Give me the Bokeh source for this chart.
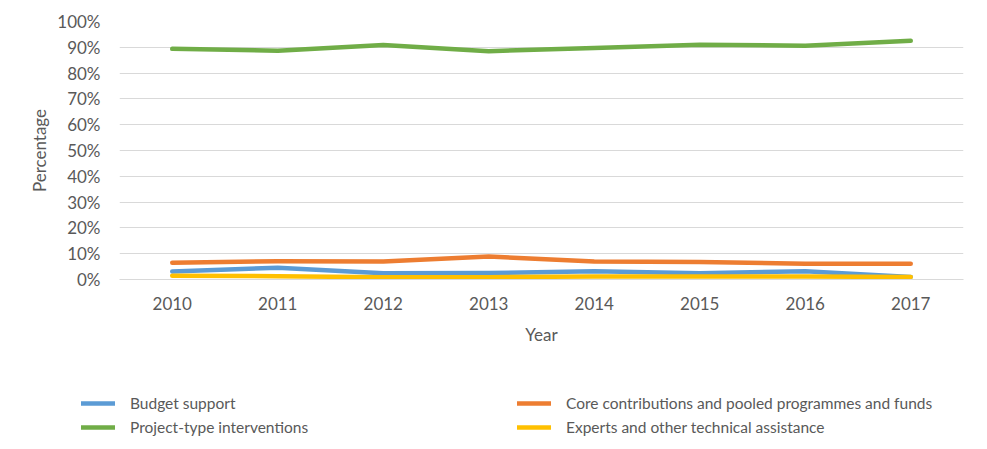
from bokeh.plotting import figure
from bokeh.layouts import column, row
from bokeh.models import (Range1d, FixedTicker, PrintfTickFormatter, Legend, LegendItem)
from bokeh.embed import file_html
from bokeh.resources import INLINE

years = ["2010", "2011", "2012", "2013", "2014", "2015", "2016", "2017"]
budget_support = [3.1, 4.6, 2.4, 2.5, 3.2, 2.4, 3.2, 1.0]
core_contributions = [6.5, 7.1, 7.0, 8.9, 7.0, 6.8, 6.1, 6.1]
project_type = [89.4, 88.7, 90.9, 88.5, 89.7, 91.0, 90.6, 92.5]
experts_ta = [1.5, 1.3, 0.9, 0.9, 1.2, 1.2, 1.2, 1.0]
y_ticks = [0, 10, 20, 30, 40, 50, 60, 70, 80, 90, 100]

FONT = "Lato"
TXT = "#595959"
GRID = "#D9D9D9"

p = figure(width=971, height=352, x_range=years, y_range=Range1d(0, 100),
           output_backend="svg", toolbar_location=None,
           min_border_left=119, min_border_right=8, min_border_top=21,
           min_border_bottom=73)
p.outline_line_color = None
p.background_fill_color = "white"
p.border_fill_color = "white"

p.xgrid.grid_line_color = None
p.ygrid.grid_line_color = GRID
p.ygrid.grid_line_width = 1

p.yaxis.ticker = FixedTicker(ticks=y_ticks)
p.yaxis.formatter = PrintfTickFormatter(format="%d%%")
p.yaxis.axis_line_color = None
p.yaxis.major_tick_line_color = None
p.yaxis.minor_tick_line_color = None
p.yaxis.major_label_standoff = 13
p.yaxis.axis_label = "Percentage"
p.yaxis.axis_label_standoff = 4

p.xaxis.axis_line_color = GRID
p.xaxis.major_tick_line_color = None
p.xaxis.minor_tick_line_color = None
p.xaxis.major_label_standoff = 11
p.xaxis.axis_label = "Year"
p.xaxis.axis_label_standoff = 11

for ax in (p.xaxis, p.yaxis):
    ax.major_label_text_font = FONT
    ax.major_label_text_font_size = "17px"
    ax.major_label_text_color = TXT
    ax.axis_label_text_font = FONT
    ax.axis_label_text_font_size = "17px"
    ax.axis_label_text_font_style = "normal"
    ax.axis_label_text_color = TXT

series = [
    ("Budget support", budget_support, "#5B9BD5"),
    ("Core contributions and pooled programmes and funds", core_contributions, "#ED7D31"),
    ("Project-type interventions", project_type, "#70AD47"),
    ("Experts and other technical assistance", experts_ta, "#FFC000"),
]
for name, vals, col in series:
    p.line(years, vals, line_color=col, line_width=4.5,
           line_cap="round", line_join="round")

# legend panel below the chart
lp = figure(width=971, height=88, x_range=Range1d(0, 1), y_range=Range1d(0, 1),
            output_backend="svg", toolbar_location=None,
            x_axis_location=None, y_axis_location=None,
            min_border=0, min_border_left=0, min_border_right=0,
            min_border_top=0, min_border_bottom=0)
lp.grid.visible = False
lp.outline_line_color = None
lp.border_fill_color = "white"
lp.background_fill_color = "white"

# off-screen stand-in lines, only used to draw the legend glyphs
lrends = {}
for name, vals, col in series:
    lrends[name] = lp.line([-10, -9], [-10, -10], line_color=col, line_width=4.5,
                           line_cap="round", line_join="round")

def make_legend(names, loc):
    lg = Legend(items=[LegendItem(label=n, renderers=[lrends[n]]) for n in names],
                location=loc, orientation="vertical",
                padding=0, margin=0, spacing=4,
                glyph_width=34, glyph_height=20, label_height=20,
                label_standoff=15,
                label_text_font=FONT, label_text_font_size="15.5px",
                label_text_color=TXT,
                border_line_color=None, background_fill_alpha=0)
    lp.add_layout(lg)

make_legend(["Budget support", "Project-type interventions"], (81, 3))
make_legend(["Core contributions and pooled programmes and funds",
             "Experts and other technical assistance"], (517, 3))

layout = column(p, row(lp, spacing=0), spacing=0)
open("out.html", "w").write(file_html(layout, INLINE))
